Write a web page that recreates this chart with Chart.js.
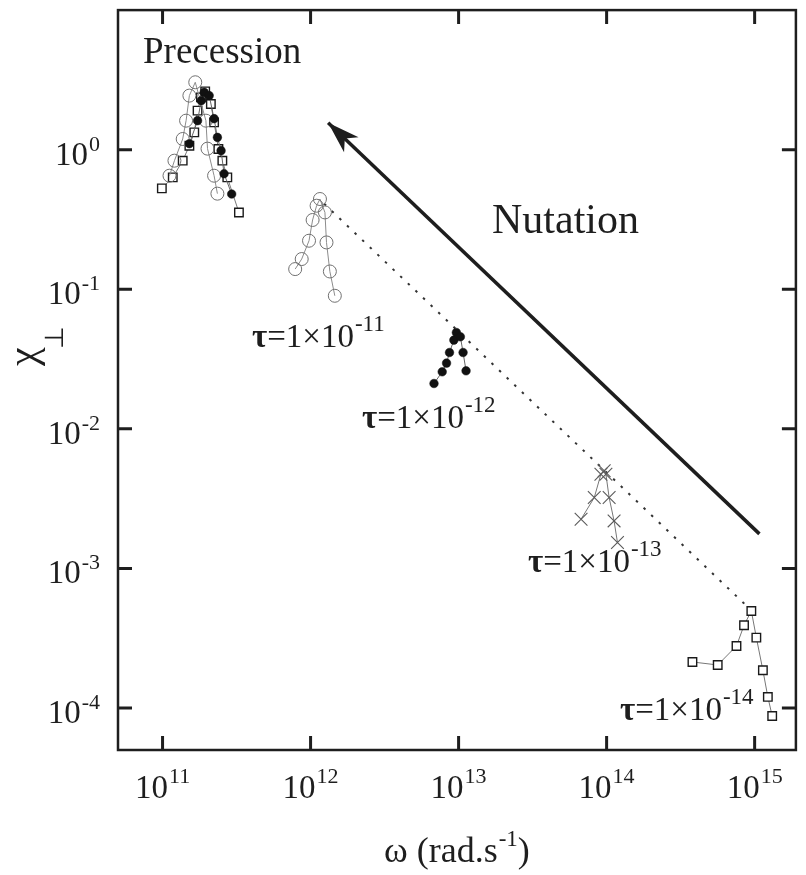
<!DOCTYPE html>
<html>
<head>
<meta charset="utf-8">
<script src="https://cdn.jsdelivr.net/npm/chart.js@4.4.1/dist/chart.umd.min.js"></script>
<style>
  html, body { margin: 0; padding: 0; background: #fff; }
  #wrap { width: 806px; height: 875px; }
</style>
</head>
<body>
<div id="wrap"><canvas id="chart"></canvas></div>
<script>
// axis ticks (decades only)
const xTicks = [1e11, 1e12, 1e13, 1e14, 1e15];
const yTicks = [1e0, 1e-1, 1e-2, 1e-3, 1e-4];

// tau = 1e-11 (open circles)
const precW11 = [1.114e11, 1.203e11, 1.368e11, 1.442e11, 1.518e11, 1.663e11, 1.963e11, 2.012e11, 2.229e11, 2.347e11];
const precChi11 = [0.651, 0.834, 1.193, 1.614, 2.44, 3.04, 1.614, 1.017, 0.651, 0.484];
const nutW11 = [7.87e11, 8.71e11, 9.76e11, 1.032e12, 1.098e12, 1.157e12, 1.25e12, 1.281e12, 1.35e12, 1.458e12];
const nutChi11 = [0.1395, 0.1646, 0.2227, 0.3135, 0.3968, 0.4431, 0.3552, 0.2165, 0.1341, 0.0898];

// tau = 1e-12 (filled circles)
const precW12 = [1.518e11, 1.724e11, 1.825e11, 1.912e11, 2.065e11, 2.229e11, 2.347e11, 2.485e11, 2.603e11, 2.931e11];
const precChi12 = [1.104, 1.614, 2.245, 2.575, 2.44, 1.668, 1.225, 0.984, 0.673, 0.481];
const nutW12 = [6.82e12, 7.75e12, 8.29e12, 8.68e12, 9.29e12, 9.66e12, 1.028e13, 1.072e13, 1.123e13];
const nutChi12 = [0.02112, 0.02562, 0.02958, 0.03522, 0.04322, 0.049, 0.04566, 0.03522, 0.02604];

// tau = 1e-13 (crosses)
const nutW13 = [6.72e13, 8.25e13, 9.15e13, 9.63e13, 9.89e13, 1.04e14, 1.123e14, 1.184e14];
const nutChi13 = [2.253e-3, 3.217e-3, 4.734e-3, 5.0e-3, 4.734e-3, 3.217e-3, 2.19e-3, 1.531e-3];

// tau = 1e-14 (open squares)
const precW14 = [9.89e10, 1.172e11, 1.368e11, 1.518e11, 1.638e11, 1.724e11, 1.817e11, 1.941e11, 2.12e11, 2.229e11, 2.384e11, 2.535e11, 2.738e11, 3.281e11];
const precChi14 = [0.528, 0.633, 0.834, 1.068, 1.331, 1.904, 2.372, 2.617, 2.126, 1.569, 1.012, 0.834, 0.633, 0.355];
const nutW14 = [3.80e14, 5.63e14, 7.54e14, 8.48e14, 9.50e14, 1.027e15, 1.137e15, 1.228e15, 1.314e15];
const nutChi14 = [2.136e-4, 2.033e-4, 2.782e-4, 3.915e-4, 4.958e-4, 3.19e-4, 1.864e-4, 1.2e-4, 8.76e-5];

// dotted guide through the nutation peaks, and the "Nutation" arrow (tail -> head)
const guideW = [1.236e12, 8.98e14];
const guideChi = [0.41, 5.3e-4];
const arrowW = [1.077e15, 1.314e12];
const arrowChi = [1.768e-3, 1.561];

const INK = "#1e1e1e";
const SERIF = '"Liberation Serif", "Times New Roman", serif';

function toPoints(ws, chis) {
  return ws.map((w, i) => ({ x: w, y: chis[i] }));
}

function series(ws, chis, style) {
  return Object.assign({
    data: toPoints(ws, chis),
    showLine: true,
    borderWidth: 1,
    borderColor: "#8c8c8c",
    tension: 0,
  }, style);
}

const openCircle = { pointStyle: "circle", pointRadius: 6.5, pointBorderWidth: 1, pointBorderColor: "#707070", pointBackgroundColor: "rgba(0,0,0,0)", borderColor: "#8c8c8c" };
const filledCircle = { pointStyle: "circle", pointRadius: 4.3, pointBorderWidth: 0.5, pointBorderColor: "#111", pointBackgroundColor: "#111", borderColor: "#666" };
const crossMark = { pointStyle: "crossRot", pointRadius: 9, pointBorderWidth: 1.1, pointBorderColor: "#5a5a5a", borderColor: "#777" };
const openSquare = { pointStyle: "rect", pointRadius: 6, pointBorderWidth: 1.4, pointBorderColor: "#1a1a1a", pointBackgroundColor: "#fff", borderColor: "#777" };

const tauLabels = [
  { exp: "-11", x: 252, y: 347 },
  { exp: "-12", x: 362, y: 428 },
  { exp: "-13", x: 528, y: 572 },
  { exp: "-14", x: 620, y: 720 },
];

function powerText(ctx, pre, exp, x, baseline, size, supSize, raise, align) {
  ctx.font = `${size}px ${SERIF}`;
  const wPre = ctx.measureText(pre).width;
  ctx.font = `${supSize}px ${SERIF}`;
  const wExp = ctx.measureText(exp).width;
  const total = wPre + 1 + wExp;
  let left = x;
  if (align === "center") left = x - total / 2;
  if (align === "right") left = x - total;
  ctx.font = `${size}px ${SERIF}`;
  ctx.fillText(pre, left, baseline);
  ctx.font = `${supSize}px ${SERIF}`;
  ctx.fillText(exp, left + wPre + 1, baseline - raise);
  return left + total;
}

const framePlugin = {
  id: "frame",
  afterDatasetsDraw(chart) {
    const { ctx, chartArea: a } = chart;
    const xs = chart.scales.x;
    const ys = chart.scales.y;
    const tick = 14;
    ctx.save();
    ctx.fillStyle = INK;
    ctx.strokeStyle = INK;

    // arrow head at the end of the arrow dataset
    const arrowMeta = chart.getDatasetMeta(chart.data.datasets.length - 1);
    const p0 = arrowMeta.data[0];
    const p1 = arrowMeta.data[1];
    const ang = Math.atan2(p1.y - p0.y, p1.x - p0.x);
    const len = 32, half = 10.5;
    ctx.save();
    ctx.translate(p1.x, p1.y);
    ctx.rotate(ang);
    ctx.beginPath();
    ctx.moveTo(0, 0);
    ctx.lineTo(-len, -half);
    ctx.lineTo(-len * 0.72, 0);
    ctx.lineTo(-len, half);
    ctx.closePath();
    ctx.fill();
    ctx.restore();

    // frame box with inward ticks on all four sides
    ctx.lineWidth = 2.5;
    ctx.strokeRect(a.left, a.top, a.right - a.left, a.bottom - a.top);
    ctx.lineWidth = 3;
    ctx.beginPath();
    xTicks.forEach((v) => {
      const px = xs.getPixelForValue(v);
      ctx.moveTo(px, a.bottom); ctx.lineTo(px, a.bottom - tick);
      ctx.moveTo(px, a.top); ctx.lineTo(px, a.top + tick);
    });
    yTicks.forEach((v) => {
      const py = ys.getPixelForValue(v);
      ctx.moveTo(a.left, py); ctx.lineTo(a.left + tick, py);
      ctx.moveTo(a.right, py); ctx.lineTo(a.right - tick, py);
    });
    ctx.stroke();

    // tick labels 10^n
    ctx.textBaseline = "alphabetic";
    xTicks.forEach((v) => {
      const px = xs.getPixelForValue(v);
      powerText(ctx, "10", String(Math.round(Math.log10(v))), px, a.bottom + 48, 33, 22, 15, "center");
    });
    yTicks.forEach((v) => {
      const py = ys.getPixelForValue(v);
      powerText(ctx, "10", String(Math.round(Math.log10(v))), 100, py + 15, 33, 22, 14, "right");
    });

    // axis titles
    const cx = (a.left + a.right) / 2;
    ctx.font = `36px ${SERIF}`;
    const t1 = "\u03c9 (rad.s";
    const t2 = "-1";
    const t3 = ")";
    const w1 = ctx.measureText(t1).width;
    const w3 = ctx.measureText(t3).width;
    ctx.font = `23px ${SERIF}`;
    const w2 = ctx.measureText(t2).width;
    let lx = cx - (w1 + w2 + w3 + 1) / 2;
    ctx.font = `36px ${SERIF}`;
    ctx.fillText(t1, lx, 862);
    ctx.font = `23px ${SERIF}`;
    ctx.fillText(t2, lx + w1 + 1, 846);
    ctx.font = `36px ${SERIF}`;
    ctx.fillText(t3, lx + w1 + w2 + 1, 862);

    ctx.save();
    ctx.translate(36, 366);
    ctx.rotate(-Math.PI / 2);
    ctx.font = `42px ${SERIF}`;
    ctx.fillText("\u03c7", 0, 0);
    const wChi = ctx.measureText("\u03c7").width;
    ctx.font = `26px ${SERIF}`;
    ctx.fillText("\u22a5", wChi - 2, 27);
    ctx.restore();

    // annotations
    ctx.font = `37px ${SERIF}`;
    ctx.fillText("Precession", 143, 63);
    ctx.font = `42px ${SERIF}`;
    ctx.fillText("Nutation", 492, 233);
    tauLabels.forEach((l) => {
      ctx.font = `bold 33px ${SERIF}`;
      ctx.fillText("\u03c4", l.x, l.y);
      const wt = ctx.measureText("\u03c4").width;
      powerText(ctx, "=1\u00d710", l.exp, l.x + wt, l.y, 33, 23, 16, "left");
    });
    ctx.restore();
  },
};

new Chart(document.getElementById("chart"), {
  type: "scatter",
  data: {
    datasets: [
      series(precW12, precChi12, filledCircle),
      series(nutW12, nutChi12, filledCircle),
      series(precW11, precChi11, openCircle),
      series(nutW11, nutChi11, openCircle),
      series(nutW13, nutChi13, crossMark),
      series(precW14, precChi14, openSquare),
      series(nutW14, nutChi14, openSquare),
      {
        data: toPoints(guideW, guideChi),
        showLine: true,
        borderColor: "#333",
        borderWidth: 2,
        borderDash: [2.5, 8],
        pointRadius: 0,
      },
      {
        data: toPoints(arrowW, arrowChi),
        showLine: true,
        borderColor: INK,
        borderWidth: 3.5,
        pointRadius: 0,
      },
    ],
  },
  options: {
    responsive: true,
    maintainAspectRatio: false,
    animation: false,
    events: [],
    layout: { padding: { left: 118, top: 9, right: 5, bottom: 125 } },
    plugins: { legend: { display: false }, tooltip: { enabled: false } },
    scales: {
      x: { type: "logarithmic", min: 5e10, max: 1.9e15, bounds: "data", display: false },
      y: { type: "logarithmic", min: 5e-5, max: 10, bounds: "data", display: false },
    },
  },
  plugins: [framePlugin],
});
</script>
</body>
</html>
